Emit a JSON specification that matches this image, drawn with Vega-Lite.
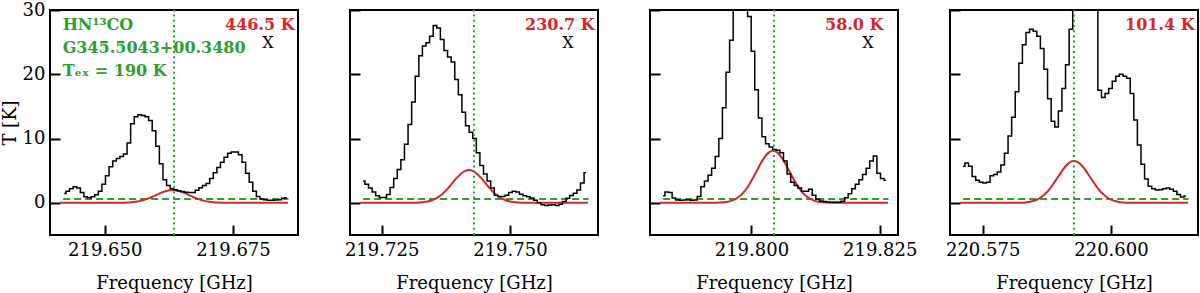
{
"$schema": "https://vega.github.io/schema/vega-lite/v6.json",
"background": "white",
"padding": {"left": 0, "top": 0, "right": 0, "bottom": 0},
"spacing": 52,
"bounds": "flush",
"config": {
  "view": {"stroke": "black", "strokeWidth": 2},
  "axis": {"domain": false, "grid": false, "tickColor": "black", "tickWidth": 2, "tickSize": 10, "offset": -10, "zindex": 1,
    "labelFont": "DejaVu Serif", "labelFontSize": 18, "labelColor": "black",
    "titleFont": "DejaVu Serif", "titleFontSize": 18, "titleFontWeight": "normal", "titleColor": "black"},
  "axisX": {"labelPadding": 6, "titlePadding": 15},
  "axisY": {"labelPadding": 5, "titlePadding": 3}
},
"datasets": {
"spec": [
{"p":1,"f":219.6421,"t":1.45},{"p":1,"f":219.6428,"t":1.8},{"p":1,"f":219.6435,"t":2.2},{"p":1,"f":219.6442,"t":2.5},{"p":1,"f":219.6449,"t":2.3},{"p":1,"f":219.6456,"t":1.6},{"p":1,"f":219.6463,"t":0.95},{"p":1,"f":219.6470,"t":0.8},{"p":1,"f":219.6477,"t":0.95},{"p":1,"f":219.6484,"t":1.25},{"p":1,"f":219.6491,"t":1.8},{"p":1,"f":219.6498,"t":2.9},{"p":1,"f":219.6505,"t":4.2},{"p":1,"f":219.6512,"t":5.6},{"p":1,"f":219.6519,"t":6.5},{"p":1,"f":219.6526,"t":6.9},{"p":1,"f":219.6533,"t":7.2},{"p":1,"f":219.6540,"t":7.6},{"p":1,"f":219.6547,"t":9.3},{"p":1,"f":219.6554,"t":12.3},{"p":1,"f":219.6561,"t":13.4},{"p":1,"f":219.6568,"t":13.7},{"p":1,"f":219.6575,"t":13.6},{"p":1,"f":219.6582,"t":13.4},{"p":1,"f":219.6589,"t":12.8},{"p":1,"f":219.6596,"t":11.2},{"p":1,"f":219.6603,"t":8.8},{"p":1,"f":219.6610,"t":6.1},{"p":1,"f":219.6617,"t":3.6},{"p":1,"f":219.6624,"t":2.7},{"p":1,"f":219.6631,"t":2.2},{"p":1,"f":219.6638,"t":2.05},{"p":1,"f":219.6645,"t":1.9},{"p":1,"f":219.6652,"t":1.75},{"p":1,"f":219.6659,"t":1.65},{"p":1,"f":219.6666,"t":1.6},{"p":1,"f":219.6673,"t":1.6},{"p":1,"f":219.6680,"t":1.95},{"p":1,"f":219.6687,"t":2.35},{"p":1,"f":219.6694,"t":2.7},{"p":1,"f":219.6701,"t":3.0},{"p":1,"f":219.6708,"t":3.8},{"p":1,"f":219.6715,"t":4.7},{"p":1,"f":219.6722,"t":5.5},{"p":1,"f":219.6729,"t":6.3},{"p":1,"f":219.6736,"t":7.1},{"p":1,"f":219.6743,"t":7.7},{"p":1,"f":219.6750,"t":7.9},{"p":1,"f":219.6757,"t":7.9},{"p":1,"f":219.6764,"t":7.5},{"p":1,"f":219.6771,"t":6.3},{"p":1,"f":219.6778,"t":4.6},{"p":1,"f":219.6785,"t":3.2},{"p":1,"f":219.6792,"t":1.8},{"p":1,"f":219.6799,"t":1.0},{"p":1,"f":219.6806,"t":0.6},{"p":1,"f":219.6813,"t":0.5},{"p":1,"f":219.6820,"t":0.4},{"p":1,"f":219.6827,"t":0.4},{"p":1,"f":219.6834,"t":0.45},{"p":1,"f":219.6841,"t":0.5},{"p":1,"f":219.6848,"t":0.7},{"p":1,"f":219.6855,"t":0.8},
{"p":2,"f":219.7214,"t":3.4},{"p":2,"f":219.7221,"t":2.9},{"p":2,"f":219.7228,"t":2.3},{"p":2,"f":219.7235,"t":1.7},{"p":2,"f":219.7242,"t":1.1},{"p":2,"f":219.7249,"t":0.85},{"p":2,"f":219.7256,"t":0.85},{"p":2,"f":219.7263,"t":1.3},{"p":2,"f":219.7270,"t":2.4},{"p":2,"f":219.7277,"t":3.8},{"p":2,"f":219.7284,"t":5.2},{"p":2,"f":219.7291,"t":6.7},{"p":2,"f":219.7298,"t":9.1},{"p":2,"f":219.7305,"t":12.2},{"p":2,"f":219.7312,"t":15.7},{"p":2,"f":219.7319,"t":19.7},{"p":2,"f":219.7326,"t":22.9},{"p":2,"f":219.7333,"t":24.4},{"p":2,"f":219.7340,"t":24.9},{"p":2,"f":219.7347,"t":25.9},{"p":2,"f":219.7354,"t":27.6},{"p":2,"f":219.7361,"t":27.2},{"p":2,"f":219.7368,"t":25.4},{"p":2,"f":219.7375,"t":23.7},{"p":2,"f":219.7382,"t":22.7},{"p":2,"f":219.7389,"t":21.9},{"p":2,"f":219.7396,"t":19.2},{"p":2,"f":219.7403,"t":16.8},{"p":2,"f":219.7410,"t":14.1},{"p":2,"f":219.7417,"t":12.0},{"p":2,"f":219.7424,"t":11.0},{"p":2,"f":219.7431,"t":10.0},{"p":2,"f":219.7438,"t":7.8},{"p":2,"f":219.7445,"t":5.8},{"p":2,"f":219.7452,"t":4.5},{"p":2,"f":219.7459,"t":3.4},{"p":2,"f":219.7466,"t":2.3},{"p":2,"f":219.7473,"t":1.2},{"p":2,"f":219.7480,"t":1.0},{"p":2,"f":219.7487,"t":1.0},{"p":2,"f":219.7494,"t":1.2},{"p":2,"f":219.7501,"t":1.6},{"p":2,"f":219.7508,"t":1.8},{"p":2,"f":219.7515,"t":1.7},{"p":2,"f":219.7522,"t":1.35},{"p":2,"f":219.7529,"t":1.1},{"p":2,"f":219.7536,"t":0.95},{"p":2,"f":219.7543,"t":0.75},{"p":2,"f":219.7550,"t":0.4},{"p":2,"f":219.7557,"t":0.0},{"p":2,"f":219.7564,"t":-0.3},{"p":2,"f":219.7571,"t":-0.4},{"p":2,"f":219.7578,"t":-0.35},{"p":2,"f":219.7585,"t":-0.3},{"p":2,"f":219.7592,"t":-0.4},{"p":2,"f":219.7599,"t":-0.2},{"p":2,"f":219.7606,"t":0.2},{"p":2,"f":219.7613,"t":0.7},{"p":2,"f":219.7620,"t":1.15},{"p":2,"f":219.7627,"t":1.5},{"p":2,"f":219.7634,"t":2.0},{"p":2,"f":219.7641,"t":3.1},{"p":2,"f":219.7648,"t":4.7},
{"p":3,"f":219.7828,"t":1.1},{"p":3,"f":219.7835,"t":1.7},{"p":3,"f":219.7842,"t":1.6},{"p":3,"f":219.7849,"t":0.75},{"p":3,"f":219.7856,"t":0.45},{"p":3,"f":219.7863,"t":0.4},{"p":3,"f":219.7870,"t":0.45},{"p":3,"f":219.7877,"t":0.5},{"p":3,"f":219.7884,"t":0.4},{"p":3,"f":219.7891,"t":0.45},{"p":3,"f":219.7898,"t":1.0},{"p":3,"f":219.7905,"t":2.5},{"p":3,"f":219.7912,"t":3.4},{"p":3,"f":219.7919,"t":4.3},{"p":3,"f":219.7926,"t":5.4},{"p":3,"f":219.7933,"t":7.2},{"p":3,"f":219.7940,"t":10.0},{"p":3,"f":219.7947,"t":14.8},{"p":3,"f":219.7954,"t":20.3},{"p":3,"f":219.7961,"t":25.3},{"p":3,"f":219.7968,"t":30.5},{"p":3,"f":219.7975,"t":34.5},{"p":3,"f":219.7982,"t":36.5},{"p":3,"f":219.7989,"t":35.0},{"p":3,"f":219.7996,"t":29.0},{"p":3,"f":219.8003,"t":23.6},{"p":3,"f":219.8010,"t":17.6},{"p":3,"f":219.8017,"t":13.2},{"p":3,"f":219.8024,"t":10.3},{"p":3,"f":219.8031,"t":9.2},{"p":3,"f":219.8038,"t":8.7},{"p":3,"f":219.8045,"t":8.3},{"p":3,"f":219.8052,"t":8.2},{"p":3,"f":219.8059,"t":7.8},{"p":3,"f":219.8066,"t":6.5},{"p":3,"f":219.8073,"t":4.5},{"p":3,"f":219.8080,"t":3.2},{"p":3,"f":219.8087,"t":2.7},{"p":3,"f":219.8094,"t":2.3},{"p":3,"f":219.8101,"t":1.8},{"p":3,"f":219.8108,"t":1.8},{"p":3,"f":219.8115,"t":2.1},{"p":3,"f":219.8122,"t":1.2},{"p":3,"f":219.8129,"t":0.55},{"p":3,"f":219.8136,"t":0.3},{"p":3,"f":219.8143,"t":0.2},{"p":3,"f":219.8150,"t":0.15},{"p":3,"f":219.8157,"t":0.1},{"p":3,"f":219.8164,"t":0.1},{"p":3,"f":219.8171,"t":0.1},{"p":3,"f":219.8178,"t":0.25},{"p":3,"f":219.8185,"t":0.8},{"p":3,"f":219.8192,"t":1.4},{"p":3,"f":219.8199,"t":2.2},{"p":3,"f":219.8206,"t":2.9},{"p":3,"f":219.8213,"t":3.6},{"p":3,"f":219.8220,"t":4.4},{"p":3,"f":219.8227,"t":5.4},{"p":3,"f":219.8234,"t":6.5},{"p":3,"f":219.8241,"t":7.3},{"p":3,"f":219.8248,"t":4.6},{"p":3,"f":219.8255,"t":3.8},{"p":3,"f":219.8262,"t":3.5},
{"p":4,"f":220.5712,"t":5.7},{"p":4,"f":220.5719,"t":6.2},{"p":4,"f":220.5726,"t":5.7},{"p":4,"f":220.5733,"t":4.1},{"p":4,"f":220.5740,"t":3.5},{"p":4,"f":220.5747,"t":3.2},{"p":4,"f":220.5754,"t":3.1},{"p":4,"f":220.5761,"t":3.2},{"p":4,"f":220.5768,"t":4.2},{"p":4,"f":220.5775,"t":4.4},{"p":4,"f":220.5782,"t":4.8},{"p":4,"f":220.5789,"t":5.9},{"p":4,"f":220.5796,"t":7.7},{"p":4,"f":220.5803,"t":10.4},{"p":4,"f":220.5810,"t":13.3},{"p":4,"f":220.5817,"t":17.3},{"p":4,"f":220.5824,"t":21.7},{"p":4,"f":220.5831,"t":24.6},{"p":4,"f":220.5838,"t":26.5},{"p":4,"f":220.5845,"t":27.0},{"p":4,"f":220.5852,"t":26.7},{"p":4,"f":220.5859,"t":25.9},{"p":4,"f":220.5866,"t":24.0},{"p":4,"f":220.5873,"t":20.8},{"p":4,"f":220.5880,"t":16.2},{"p":4,"f":220.5887,"t":12.7},{"p":4,"f":220.5894,"t":11.8},{"p":4,"f":220.5901,"t":14.3},{"p":4,"f":220.5908,"t":17.8},{"p":4,"f":220.5915,"t":21.5},{"p":4,"f":220.5922,"t":27.0},{"p":4,"f":220.5929,"t":33.0},{"p":4,"f":220.5936,"t":38.0},{"p":4,"f":220.5943,"t":40.0},{"p":4,"f":220.5950,"t":40.0},{"p":4,"f":220.5957,"t":37.0},{"p":4,"f":220.5964,"t":33.0},{"p":4,"f":220.5971,"t":30.5},{"p":4,"f":220.5978,"t":17.5},{"p":4,"f":220.5985,"t":16.4},{"p":4,"f":220.5992,"t":17.0},{"p":4,"f":220.5999,"t":17.8},{"p":4,"f":220.6006,"t":18.9},{"p":4,"f":220.6013,"t":19.7},{"p":4,"f":220.6020,"t":20.0},{"p":4,"f":220.6027,"t":19.7},{"p":4,"f":220.6034,"t":19.4},{"p":4,"f":220.6041,"t":17.0},{"p":4,"f":220.6048,"t":12.9},{"p":4,"f":220.6055,"t":9.0},{"p":4,"f":220.6062,"t":6.0},{"p":4,"f":220.6069,"t":3.7},{"p":4,"f":220.6076,"t":2.6},{"p":4,"f":220.6083,"t":2.2},{"p":4,"f":220.6090,"t":2.0},{"p":4,"f":220.6097,"t":2.05},{"p":4,"f":220.6104,"t":2.2},{"p":4,"f":220.6111,"t":2.3},{"p":4,"f":220.6118,"t":2.1},{"p":4,"f":220.6125,"t":1.8},{"p":4,"f":220.6132,"t":1.3},{"p":4,"f":220.6139,"t":0.9},{"p":4,"f":220.6146,"t":1.05}
],
"fit": [
{"p":1,"f":219.6413,"t":0},{"p":1,"f":219.6520,"t":0.004},{"p":1,"f":219.6528,"t":0.010},{"p":1,"f":219.6536,"t":0.022},{"p":1,"f":219.6544,"t":0.046},{"p":1,"f":219.6552,"t":0.088},{"p":1,"f":219.6560,"t":0.159},{"p":1,"f":219.6568,"t":0.271},{"p":1,"f":219.6576,"t":0.433},{"p":1,"f":219.6584,"t":0.649},{"p":1,"f":219.6592,"t":0.916},{"p":1,"f":219.6600,"t":1.213},{"p":1,"f":219.6608,"t":1.510},{"p":1,"f":219.6616,"t":1.765},{"p":1,"f":219.6624,"t":1.938},{"p":1,"f":219.6632,"t":2.0},{"p":1,"f":219.6640,"t":1.938},{"p":1,"f":219.6648,"t":1.765},{"p":1,"f":219.6656,"t":1.510},{"p":1,"f":219.6664,"t":1.213},{"p":1,"f":219.6672,"t":0.916},{"p":1,"f":219.6680,"t":0.649},{"p":1,"f":219.6688,"t":0.433},{"p":1,"f":219.6696,"t":0.271},{"p":1,"f":219.6704,"t":0.159},{"p":1,"f":219.6712,"t":0.088},{"p":1,"f":219.6720,"t":0.046},{"p":1,"f":219.6728,"t":0.022},{"p":1,"f":219.6736,"t":0.010},{"p":1,"f":219.6744,"t":0.004},{"p":1,"f":219.6857,"t":0},
{"p":2,"f":219.7208,"t":0},{"p":2,"f":219.7308,"t":0.011},{"p":2,"f":219.7316,"t":0.026},{"p":2,"f":219.7324,"t":0.057},{"p":2,"f":219.7332,"t":0.116},{"p":2,"f":219.7340,"t":0.224},{"p":2,"f":219.7348,"t":0.406},{"p":2,"f":219.7356,"t":0.690},{"p":2,"f":219.7364,"t":1.103},{"p":2,"f":219.7372,"t":1.656},{"p":2,"f":219.7380,"t":2.335},{"p":2,"f":219.7388,"t":3.093},{"p":2,"f":219.7396,"t":3.849},{"p":2,"f":219.7404,"t":4.501},{"p":2,"f":219.7412,"t":4.943},{"p":2,"f":219.7420,"t":5.1},{"p":2,"f":219.7428,"t":4.943},{"p":2,"f":219.7436,"t":4.501},{"p":2,"f":219.7444,"t":3.849},{"p":2,"f":219.7452,"t":3.093},{"p":2,"f":219.7460,"t":2.335},{"p":2,"f":219.7468,"t":1.656},{"p":2,"f":219.7476,"t":1.103},{"p":2,"f":219.7484,"t":0.690},{"p":2,"f":219.7492,"t":0.406},{"p":2,"f":219.7500,"t":0.224},{"p":2,"f":219.7508,"t":0.116},{"p":2,"f":219.7516,"t":0.057},{"p":2,"f":219.7524,"t":0.026},{"p":2,"f":219.7532,"t":0.011},{"p":2,"f":219.7652,"t":0},
{"p":3,"f":219.7822,"t":0},{"p":3,"f":219.7930,"t":0.018},{"p":3,"f":219.7938,"t":0.041},{"p":3,"f":219.7946,"t":0.090},{"p":3,"f":219.7954,"t":0.185},{"p":3,"f":219.7962,"t":0.356},{"p":3,"f":219.7970,"t":0.645},{"p":3,"f":219.7978,"t":1.096},{"p":3,"f":219.7986,"t":1.752},{"p":3,"f":219.7994,"t":2.630},{"p":3,"f":219.8002,"t":3.708},{"p":3,"f":219.8010,"t":4.913},{"p":3,"f":219.8018,"t":6.114},{"p":3,"f":219.8026,"t":7.148},{"p":3,"f":219.8034,"t":7.851},{"p":3,"f":219.8042,"t":8.1},{"p":3,"f":219.8050,"t":7.851},{"p":3,"f":219.8058,"t":7.148},{"p":3,"f":219.8066,"t":6.114},{"p":3,"f":219.8074,"t":4.913},{"p":3,"f":219.8082,"t":3.708},{"p":3,"f":219.8090,"t":2.630},{"p":3,"f":219.8098,"t":1.752},{"p":3,"f":219.8106,"t":1.096},{"p":3,"f":219.8114,"t":0.645},{"p":3,"f":219.8122,"t":0.356},{"p":3,"f":219.8130,"t":0.185},{"p":3,"f":219.8138,"t":0.090},{"p":3,"f":219.8146,"t":0.041},{"p":3,"f":219.8154,"t":0.018},{"p":3,"f":219.8266,"t":0},
{"p":4,"f":220.5706,"t":0},{"p":4,"f":220.5816,"t":0.014},{"p":4,"f":220.5824,"t":0.033},{"p":4,"f":220.5832,"t":0.072},{"p":4,"f":220.5840,"t":0.148},{"p":4,"f":220.5848,"t":0.285},{"p":4,"f":220.5856,"t":0.517},{"p":4,"f":220.5864,"t":0.879},{"p":4,"f":220.5872,"t":1.406},{"p":4,"f":220.5880,"t":2.111},{"p":4,"f":220.5888,"t":2.976},{"p":4,"f":220.5896,"t":3.942},{"p":4,"f":220.5904,"t":4.906},{"p":4,"f":220.5912,"t":5.736},{"p":4,"f":220.5920,"t":6.300},{"p":4,"f":220.5928,"t":6.5},{"p":4,"f":220.5936,"t":6.300},{"p":4,"f":220.5944,"t":5.736},{"p":4,"f":220.5952,"t":4.906},{"p":4,"f":220.5960,"t":3.942},{"p":4,"f":220.5968,"t":2.976},{"p":4,"f":220.5976,"t":2.111},{"p":4,"f":220.5984,"t":1.406},{"p":4,"f":220.5992,"t":0.879},{"p":4,"f":220.6000,"t":0.517},{"p":4,"f":220.6008,"t":0.285},{"p":4,"f":220.6016,"t":0.148},{"p":4,"f":220.6024,"t":0.072},{"p":4,"f":220.6032,"t":0.033},{"p":4,"f":220.6040,"t":0.014},{"p":4,"f":220.6150,"t":0}
],
"hl": [
{"p":1,"f":219.6419,"f2":219.6858,"t":0.6},
{"p":2,"f":219.7214,"f2":219.7653,"t":0.6},
{"p":3,"f":219.7828,"f2":219.8267,"t":0.6},
{"p":4,"f":220.5712,"f2":220.6151,"t":0.6}
],
"vl": [
{"p":1,"f":219.6635,"t":-5,"t2":30},
{"p":2,"f":219.7430,"t":-5,"t2":30},
{"p":3,"f":219.8044,"t":-5,"t2":30},
{"p":4,"f":220.5928,"t":-5,"t2":30}
],
"red": [
{"p":1,"f":219.67344,"t":27.6,"s":"446.5 K"},
{"p":2,"f":219.75294,"t":27.6,"s":"230.7 K"},
{"p":3,"f":219.81434,"t":27.6,"s":"58.0 K"},
{"p":4,"f":220.60274,"t":27.6,"s":"101.4 K"}
],
"xm": [
{"p":1,"f":219.68182,"t":24.8,"s":"X"},
{"p":2,"f":219.76132,"t":24.8,"s":"X"},
{"p":3,"f":219.82272,"t":24.8,"s":"X"}
],
"grn": [
{"p":1,"f":219.64181,"t":27.6,"s":"HN¹³CO"},
{"p":1,"f":219.64181,"t":24.1,"s":"G345.5043+00.3480"},
{"p":1,"f":219.64181,"t":20.5,"s":"Tₑₓ = 190 K"}
]
},
"hconcat": [
{
"width": 248, "height": 225,
"encoding": {
  "x": {"field": "f", "type": "quantitative", "scale": {"domain": [219.63934, 219.68766], "nice": false, "zero": false}, "axis": {"values": [219.65, 219.675], "format": ".3f", "title": "Frequency [GHz]"}},
  "y": {"field": "t", "type": "quantitative", "scale": {"domain": [-5, 30], "nice": false, "zero": false}, "axis": {"values": [0, 10, 20, 30], "title": "T [K]"}}
},
"layer": [
  {"data": {"name": "hl"}, "transform": [{"filter": "datum.p == 1"}], "mark": {"type": "rule", "color": "#2ca02c", "strokeWidth": 2, "strokeDash": [7, 4]}, "encoding": {"x2": {"field": "f2"}}},
  {"data": {"name": "fit"}, "transform": [{"filter": "datum.p == 1"}], "mark": {"type": "line", "color": "#d62728", "strokeWidth": 2, "interpolate": "monotone", "clip": true}, "encoding": {}},
  {"data": {"name": "spec"}, "transform": [{"filter": "datum.p == 1"}], "mark": {"type": "line", "color": "black", "strokeWidth": 1.5, "interpolate": "step", "clip": true}, "encoding": {}},
  {"data": {"name": "vl"}, "transform": [{"filter": "datum.p == 1"}], "mark": {"type": "rule", "color": "#2ca02c", "strokeWidth": 2, "strokeDash": [2, 3.2]}, "encoding": {"y2": {"field": "t2"}}},
  {"data": {"name": "red"}, "transform": [{"filter": "datum.p == 1"}], "mark": {"type": "text", "color": "#d62728", "font": "DejaVu Serif", "fontWeight": "bold", "fontSize": 16, "align": "left", "baseline": "middle"}, "encoding": {"text": {"field": "s"}}},
  {"data": {"name": "xm"}, "transform": [{"filter": "datum.p == 1"}], "mark": {"type": "text", "color": "black", "font": "DejaVu Serif", "fontSize": 16, "align": "center", "baseline": "middle"}, "encoding": {"text": {"field": "s"}}},
  {"data": {"name": "grn"}, "transform": [{"filter": "datum.p == 1"}], "mark": {"type": "text", "color": "#2ca02c", "font": "DejaVu Serif", "fontWeight": "bold", "fontSize": 16, "align": "left", "baseline": "middle"}, "encoding": {"text": {"field": "s"}}}
]
},
{
"width": 248, "height": 225,
"encoding": {
  "x": {"field": "f", "type": "quantitative", "scale": {"domain": [219.71884, 219.76716], "nice": false, "zero": false}, "axis": {"values": [219.725, 219.75], "format": ".3f", "title": "Frequency [GHz]"}},
  "y": {"field": "t", "type": "quantitative", "scale": {"domain": [-5, 30], "nice": false, "zero": false}, "axis": {"values": [0, 10, 20, 30], "labels": false, "title": null}}
},
"layer": [
  {"data": {"name": "hl"}, "transform": [{"filter": "datum.p == 2"}], "mark": {"type": "rule", "color": "#2ca02c", "strokeWidth": 2, "strokeDash": [7, 4]}, "encoding": {"x2": {"field": "f2"}}},
  {"data": {"name": "fit"}, "transform": [{"filter": "datum.p == 2"}], "mark": {"type": "line", "color": "#d62728", "strokeWidth": 2, "interpolate": "monotone", "clip": true}, "encoding": {}},
  {"data": {"name": "spec"}, "transform": [{"filter": "datum.p == 2"}], "mark": {"type": "line", "color": "black", "strokeWidth": 1.5, "interpolate": "step", "clip": true}, "encoding": {}},
  {"data": {"name": "vl"}, "transform": [{"filter": "datum.p == 2"}], "mark": {"type": "rule", "color": "#2ca02c", "strokeWidth": 2, "strokeDash": [2, 3.2]}, "encoding": {"y2": {"field": "t2"}}},
  {"data": {"name": "red"}, "transform": [{"filter": "datum.p == 2"}], "mark": {"type": "text", "color": "#d62728", "font": "DejaVu Serif", "fontWeight": "bold", "fontSize": 16, "align": "left", "baseline": "middle"}, "encoding": {"text": {"field": "s"}}},
  {"data": {"name": "xm"}, "transform": [{"filter": "datum.p == 2"}], "mark": {"type": "text", "color": "black", "font": "DejaVu Serif", "fontSize": 16, "align": "center", "baseline": "middle"}, "encoding": {"text": {"field": "s"}}}
]
},
{
"width": 248, "height": 225,
"encoding": {
  "x": {"field": "f", "type": "quantitative", "scale": {"domain": [219.78024, 219.82856], "nice": false, "zero": false}, "axis": {"values": [219.8, 219.825], "format": ".3f", "title": "Frequency [GHz]"}},
  "y": {"field": "t", "type": "quantitative", "scale": {"domain": [-5, 30], "nice": false, "zero": false}, "axis": {"values": [0, 10, 20, 30], "labels": false, "title": null}}
},
"layer": [
  {"data": {"name": "hl"}, "transform": [{"filter": "datum.p == 3"}], "mark": {"type": "rule", "color": "#2ca02c", "strokeWidth": 2, "strokeDash": [7, 4]}, "encoding": {"x2": {"field": "f2"}}},
  {"data": {"name": "fit"}, "transform": [{"filter": "datum.p == 3"}], "mark": {"type": "line", "color": "#d62728", "strokeWidth": 2, "interpolate": "monotone", "clip": true}, "encoding": {}},
  {"data": {"name": "spec"}, "transform": [{"filter": "datum.p == 3"}], "mark": {"type": "line", "color": "black", "strokeWidth": 1.5, "interpolate": "step", "clip": true}, "encoding": {}},
  {"data": {"name": "vl"}, "transform": [{"filter": "datum.p == 3"}], "mark": {"type": "rule", "color": "#2ca02c", "strokeWidth": 2, "strokeDash": [2, 3.2]}, "encoding": {"y2": {"field": "t2"}}},
  {"data": {"name": "red"}, "transform": [{"filter": "datum.p == 3"}], "mark": {"type": "text", "color": "#d62728", "font": "DejaVu Serif", "fontWeight": "bold", "fontSize": 16, "align": "left", "baseline": "middle"}, "encoding": {"text": {"field": "s"}}},
  {"data": {"name": "xm"}, "transform": [{"filter": "datum.p == 3"}], "mark": {"type": "text", "color": "black", "font": "DejaVu Serif", "fontSize": 16, "align": "center", "baseline": "middle"}, "encoding": {"text": {"field": "s"}}}
]
},
{
"width": 248, "height": 225,
"encoding": {
  "x": {"field": "f", "type": "quantitative", "scale": {"domain": [220.56864, 220.61696], "nice": false, "zero": false}, "axis": {"values": [220.575, 220.6], "format": ".3f", "title": "Frequency [GHz]"}},
  "y": {"field": "t", "type": "quantitative", "scale": {"domain": [-5, 30], "nice": false, "zero": false}, "axis": {"values": [0, 10, 20, 30], "labels": false, "title": null}}
},
"layer": [
  {"data": {"name": "hl"}, "transform": [{"filter": "datum.p == 4"}], "mark": {"type": "rule", "color": "#2ca02c", "strokeWidth": 2, "strokeDash": [7, 4]}, "encoding": {"x2": {"field": "f2"}}},
  {"data": {"name": "fit"}, "transform": [{"filter": "datum.p == 4"}], "mark": {"type": "line", "color": "#d62728", "strokeWidth": 2, "interpolate": "monotone", "clip": true}, "encoding": {}},
  {"data": {"name": "spec"}, "transform": [{"filter": "datum.p == 4"}], "mark": {"type": "line", "color": "black", "strokeWidth": 1.5, "interpolate": "step", "clip": true}, "encoding": {}},
  {"data": {"name": "vl"}, "transform": [{"filter": "datum.p == 4"}], "mark": {"type": "rule", "color": "#2ca02c", "strokeWidth": 2, "strokeDash": [2, 3.2]}, "encoding": {"y2": {"field": "t2"}}},
  {"data": {"name": "red"}, "transform": [{"filter": "datum.p == 4"}], "mark": {"type": "text", "color": "#d62728", "font": "DejaVu Serif", "fontWeight": "bold", "fontSize": 16, "align": "left", "baseline": "middle"}, "encoding": {"text": {"field": "s"}}}
]
}
]
}
